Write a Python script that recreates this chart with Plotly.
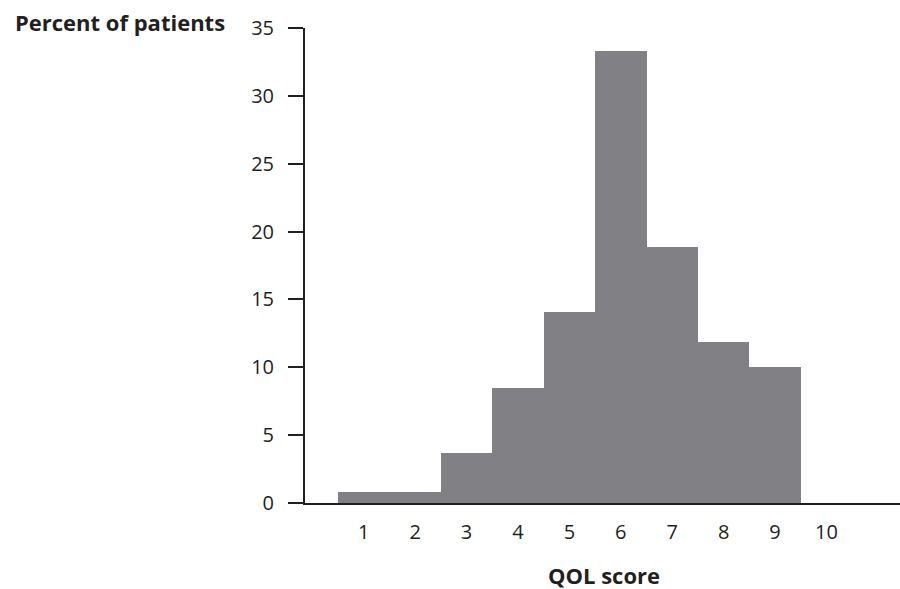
import plotly.graph_objects as go

scores = [1, 2, 3, 4, 5, 6, 7, 8, 9, 10]
percent = [0.8, 0.8, 3.7, 8.5, 14.1, 33.3, 18.9, 11.9, 10.0, 0.0]
y_ticks = [0, 5, 10, 15, 20, 25, 30, 35]

TXT = "#231f20"
FONT = "Open Sans"

fig = go.Figure()
fig.add_trace(go.Bar(
    x=scores, y=percent, width=1.0,
    marker=dict(color="#818185", line=dict(width=0)),
    hoverinfo="x+y", showlegend=False,
))

fig.update_layout(
    width=900, height=589,
    margin=dict(l=305, r=0, t=28, b=86),
    plot_bgcolor="white", paper_bgcolor="white",
    bargap=0,
    font=dict(family=FONT, size=20, color=TXT),
    xaxis=dict(
        range=[-0.142, 11.43],
        tickmode="array", tickvals=scores, ticktext=[str(s) for s in scores],
        showline=True, linecolor=TXT, linewidth=2,
        ticks="", showgrid=False, zeroline=False,
        ticklabelstandoff=10,
        tickfont=dict(family=FONT, size=20, color=TXT),
    ),
    yaxis=dict(
        range=[0, 35],
        tickmode="array", tickvals=y_ticks,
        showline=True, linecolor=TXT, linewidth=2,
        ticks="outside", ticklen=15, tickwidth=2, tickcolor=TXT,
        showgrid=False, zeroline=False,
        ticklabelstandoff=10,
        tickfont=dict(family=FONT, size=20, color=TXT),
    ),
    annotations=[
        dict(text="<b>Percent of patients</b>", xref="paper", yref="paper",
             x=-0.1315, y=1.0126, xanchor="right", yanchor="middle",
             showarrow=False, font=dict(family=FONT, size=22, color=TXT)),
        dict(text="<b>QOL score</b>", xref="paper", yref="paper",
             x=0.5025, y=-0.1523, xanchor="center", yanchor="middle",
             showarrow=False, font=dict(family=FONT, size=22, color=TXT)),
    ],
)

fig.write_html("out.html", config={"displayModeBar": False},
               post_script="document.body.style.margin='0';document.body.style.overflow='hidden';")
